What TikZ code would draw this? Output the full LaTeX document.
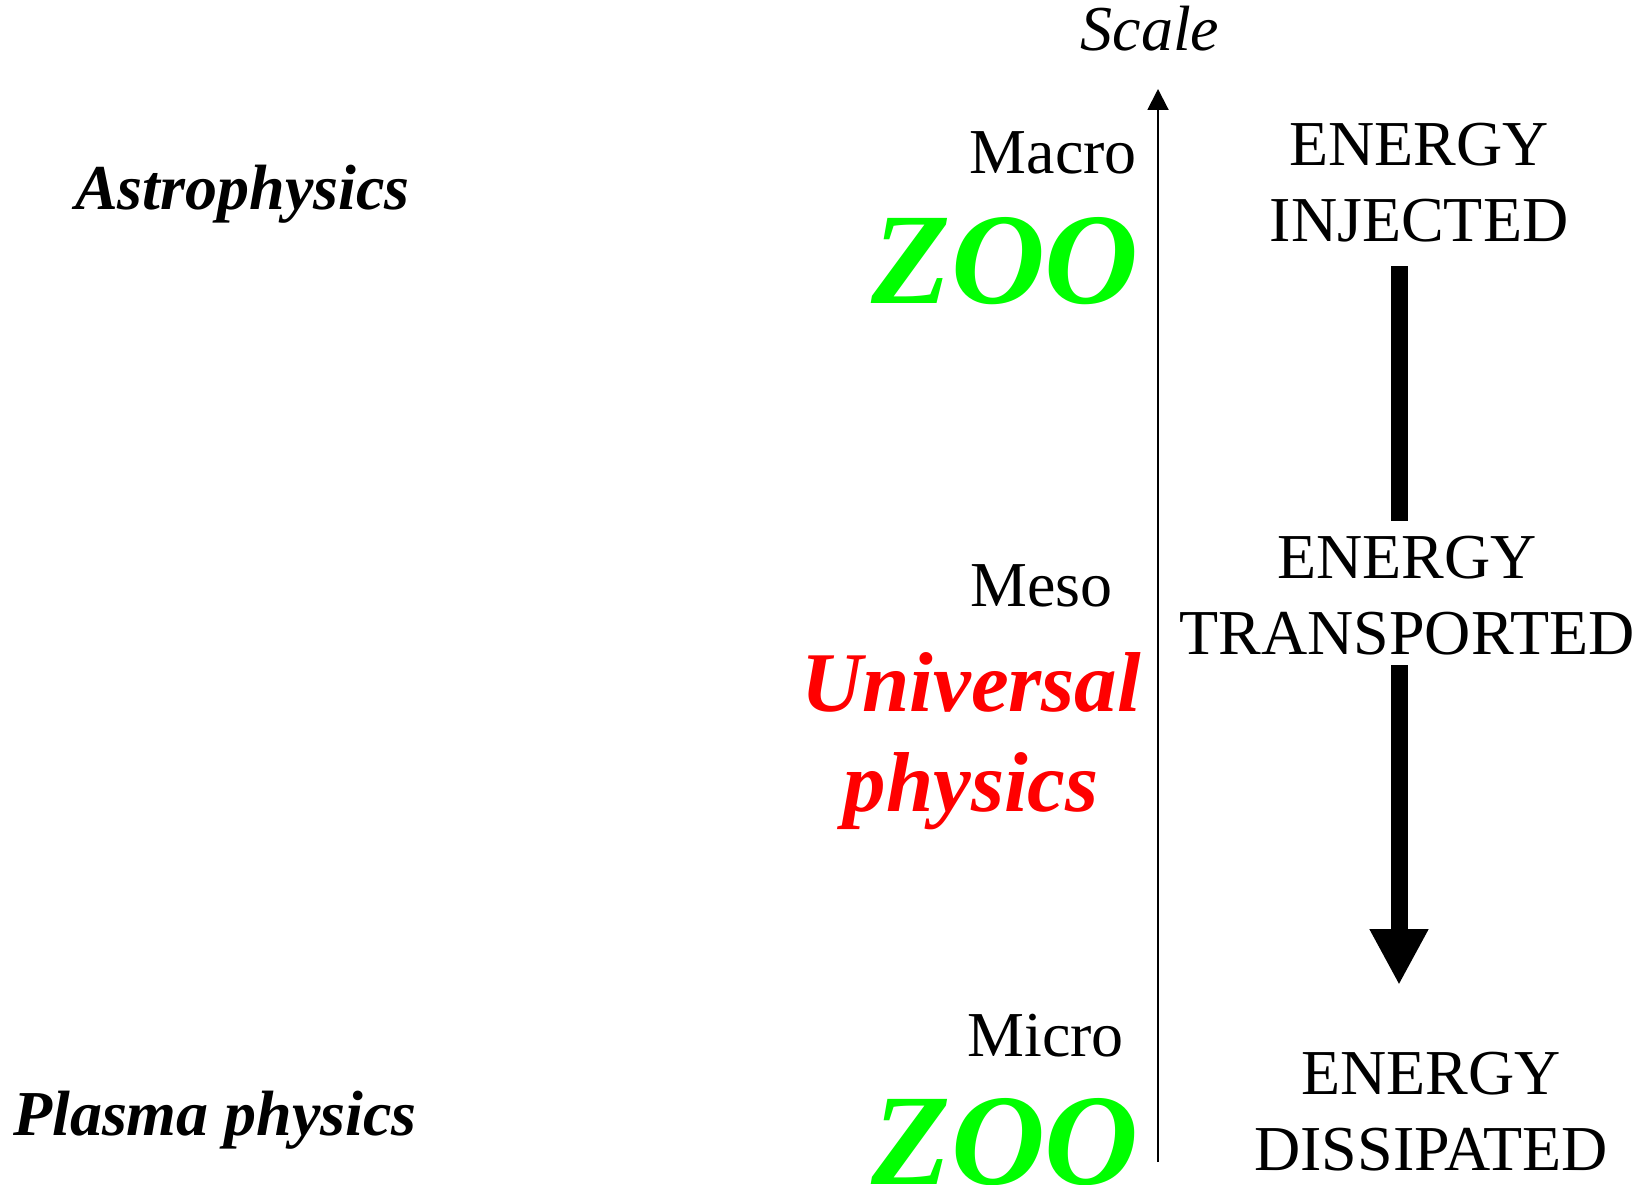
\documentclass[tikz,border=0pt]{standalone}
\usepackage{fontspec}
\setmainfont{Liberation Serif}
\usetikzlibrary{arrows.meta}
\definecolor{zoogreen}{RGB}{0,255,0}
\definecolor{univred}{RGB}{255,0,0}
\tikzset{
  lbl/.style={inner sep=0pt, font=\fontsize{64}{76}\selectfont},
  field/.style={inner sep=0pt, font=\fontsize{64}{76}\selectfont\bfseries\itshape},
  zoo/.style={inner sep=0pt, text=zoogreen, font=\fontsize{130}{150}\selectfont\bfseries\itshape},
  univ/.style={inner sep=0pt, text=univred, align=center, font=\fontsize{85}{100}\selectfont\bfseries\itshape},
  energy/.style={inner sep=0pt, align=center, font=\fontsize{64}{76}\selectfont},
  axisline/.style={line width=2pt, -{Triangle[width=21pt,length=21pt]}},
  flowline/.style={line width=17pt},
  flowarrow/.style={line width=17pt, -{Triangle[width=55pt,length=56pt]}}
}
\begin{document}
\begin{tikzpicture}[x=1pt,y=-1pt]
\useasboundingbox (0,0) rectangle (1635,1185);
% scale axis
\coordinate (axbot) at (1158,1162);
\coordinate (axtop) at (1158,89);
\draw[axisline] (axbot) -- (axtop);
\node[lbl, font=\fontsize{64}{76}\selectfont\itshape, anchor=base] (scale) at (1150,51) {Scale};
% scale levels
\node[lbl, anchor=base east] (macro) at (1137,174) {Macro};
\node[lbl, anchor=base east] (meso) at (1113,606) {Meso};
\node[lbl, anchor=base east] (micro) at (1124,1056) {Micro};
% zoo / universal
\node[zoo, anchor=base east] (zootop) at (1139,303) {ZOO};
\node[zoo, anchor=base east] (zoobot) at (1139,1184) {ZOO};
\node[univ, anchor=base] (univ) at (971,811) {Universal\\physics};
% fields
\node[field, anchor=base west] (astro) at (75,209) {Astrophysics};
\node[field, anchor=base west] (plasma) at (13,1135) {Plasma physics};
% energy cascade
\node[energy, anchor=base] (inj) at (1419,241) {ENERGY\\INJECTED};
\node[energy, anchor=base] (trans) at (1407,654) {ENERGY\\TRANSPORTED};
\node[energy, anchor=base] (diss) at (1431,1170) {ENERGY\\DISSIPATED};
\coordinate (f1a) at (1399,266);
\coordinate (f1b) at (1399,521);
\coordinate (f2a) at (1399,665);
\coordinate (f2b) at (1399,985);
\draw[flowline] (f1a) -- (f1b);
\draw[flowarrow] (f2a) -- (f2b);
\end{tikzpicture}
\end{document}
